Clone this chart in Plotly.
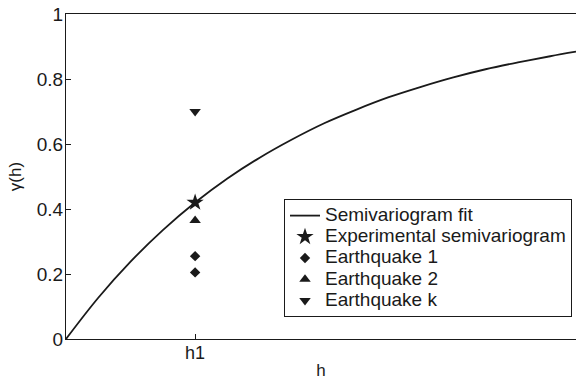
import plotly.graph_objects as go

# Fitted semivariogram curve, h in units of h1
fit_h = [0, 0.25, 0.5, 0.75, 1.0, 1.25, 1.5, 1.75, 2.0, 2.25, 2.5, 2.75, 3.0, 3.25, 3.5, 3.75, 3.95]
fit_g = [0, 0.127, 0.238, 0.335, 0.42, 0.494, 0.558, 0.614, 0.664, 0.706, 0.744, 0.776, 0.805, 0.830, 0.851, 0.870, 0.884]

# Points at h1
exp_h, exp_g = [1.0], [0.42]
eq1_h, eq1_g = [1.0, 1.0], [0.255, 0.205]
eq2_h, eq2_g = [1.0], [0.365]
eqk_h, eqk_g = [1.0], [0.70]

series_names = ["Semivariogram fit", "Experimental semivariogram",
                "Earthquake 1", "Earthquake 2", "Earthquake k"]

x_tickvals = [1.0]
x_ticktext = ["h1"]
y_tickvals = [0, 0.2, 0.4, 0.6, 0.8, 1]
y_ticktext = ["0", "0.2", "0.4", "0.6", "0.8", "1"]

FONT = "Liberation Sans, Arial, Helvetica, sans-serif"
ink = "#1a1a1a"


def lname(s):
    return "<span style='font-size:19px'>" + s + "</span>"


fig = go.Figure()
fig.add_trace(go.Scatter(x=fit_h, y=fit_g, mode="lines", name=lname(series_names[0]),
                         line=dict(color=ink, width=1.8, shape="spline")))
fig.add_trace(go.Scatter(x=exp_h, y=exp_g, mode="markers", name=lname(series_names[1]),
                         marker=dict(symbol="star", size=13, color=ink)))
fig.add_trace(go.Scatter(x=eq1_h, y=eq1_g, mode="markers", name=lname(series_names[2]),
                         marker=dict(symbol="diamond", size=8, color=ink)))
fig.add_trace(go.Scatter(x=eq2_h, y=eq2_g, mode="markers", name=lname(series_names[3]),
                         marker=dict(symbol="triangle-up", size=10, color=ink)))
fig.add_trace(go.Scatter(x=eqk_h, y=eqk_g, mode="markers", name=lname(series_names[4]),
                         marker=dict(symbol="triangle-down", size=10, color=ink)))

fig.update_layout(
    width=576, height=381,
    margin=dict(l=66, r=0, t=14, b=42),
    paper_bgcolor="white", plot_bgcolor="white",
    font=dict(family=FONT, size=17, color=ink),
    showlegend=True,
    legend=dict(x=(284 - 66) / 510, y=(339 - 199) / 325, xanchor="left", yanchor="top",
                bordercolor=ink, borderwidth=1, bgcolor="white",
                font=dict(size=14), itemwidth=30, tracegroupgap=0),
    xaxis=dict(range=[0, 3.95], tickvals=x_tickvals, ticktext=x_ticktext,
               ticks="inside", ticklen=5, tickcolor=ink,
               showline=True, linecolor=ink, linewidth=1.2, mirror=True,
               showgrid=False, zeroline=False, ticklabelstandoff=-3,
               title=dict(text="h", standoff=2, font=dict(size=17)),
               tickfont=dict(size=18)),
    yaxis=dict(range=[0, 1], tickvals=y_tickvals, ticktext=y_ticktext,
               ticks="inside", ticklen=5, tickcolor=ink,
               showline=True, linecolor=ink, linewidth=1.2, mirror=False,
               showgrid=False, zeroline=False, ticklabelstandoff=-2,
               title=dict(text="γ(h)", standoff=10, font=dict(size=17)),
               tickfont=dict(size=19)),
)

fig.write_html("out.html")
